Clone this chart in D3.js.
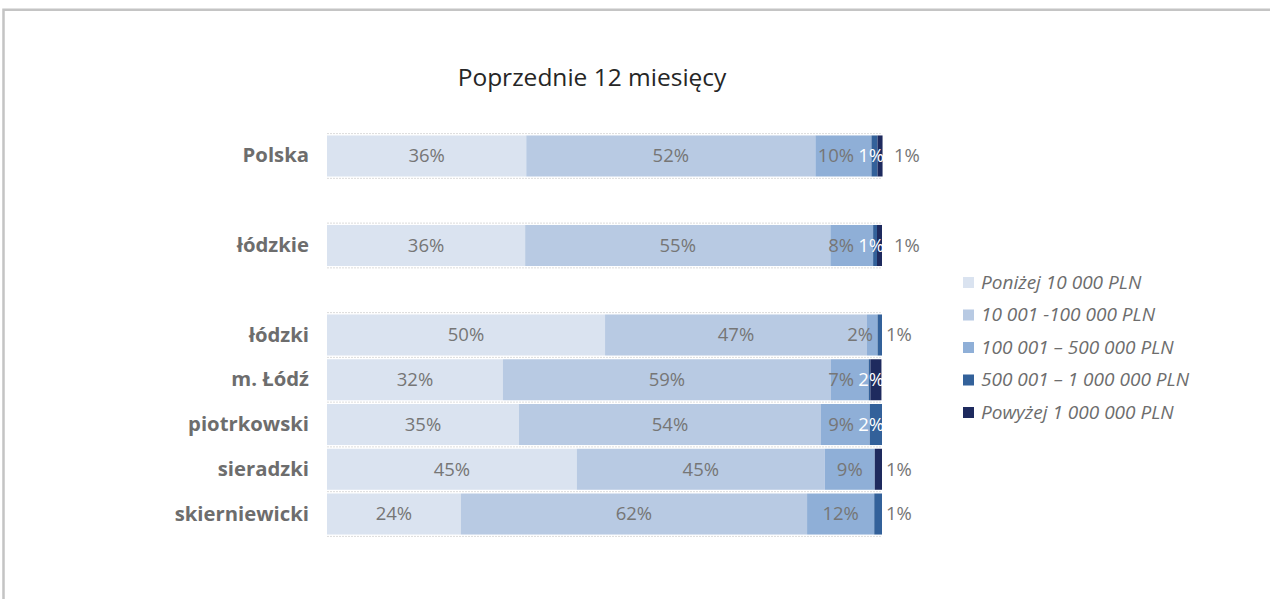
<!DOCTYPE html>
<html>
<head>
<meta charset="utf-8">
<script src="https://cdn.jsdelivr.net/npm/d3@7"></script>
<style>
  body { margin: 0; background: #fff; overflow: hidden; }
  svg { display: block; font-family: "Open Sans", sans-serif; }
</style>
</head>
<body>
<svg id="chart" width="1270" height="599"></svg>
<script>
// rows of the chart, "" = empty spacer row
const categories = ["Polska", "", "łódzkie", "", "łódzki", "m. Łódź", "piotrkowski", "sieradzki", "skierniewicki"];
const seriesNames = ["Poniżej 10 000 PLN", "10 001 -100 000 PLN", "100 001 – 500 000 PLN", "500 001 – 1 000 000 PLN", "Powyżej 1 000 000 PLN"];
const below10k   = [35.9, null, 35.7, null, 50.1, 31.7, 34.6, 45.0, 24.1];
const to100k     = [52.1, null, 55.0, null, 47.2, 59.1, 54.4, 44.7, 62.4];
const to500k     = [10.1, null, 7.7,  null, 1.9,  6.8,  8.8,  9.0,  12.1];
const to1m       = [1.1,  null, 0.7,  null, 0.8,  0.3,  2.2,  0,    1.4];
const above1m    = [0.9,  null, 0.9,  null, 0,    2.0,  0,    1.3,  0];
const colors = ["#dae3f0", "#b8cae3", "#8fafd7", "#33619a", "#1e2a5e"];
const labelColors = ["#767676", "#767676", "#767676", "#ffffff", "#ffffff"];
const title = "Poprzednie 12 miesięcy";

const svg = d3.select("#chart");

// frame of the chart area
svg.append("path")
  .attr("d", "M3.5,599 V9.7 H1270")
  .attr("fill", "none")
  .attr("stroke", "#c4c4c4")
  .attr("stroke-width", 2.5);

svg.append("text")
  .attr("x", 592).attr("y", 86)
  .attr("text-anchor", "middle")
  .attr("font-size", 24.5)
  .attr("fill", "#262626")
  .text(title);

const x = d3.scaleLinear().domain([0, 100]).range([327, 882]);
const y = d3.scaleBand().domain(d3.range(categories.length))
  .range([133.6, 536.4]).paddingInner(0.083).paddingOuter(0.0415);

// dotted row separators
const step = y.step();
svg.append("g").selectAll("line")
  .data(d3.range(categories.length + 1))
  .join("line")
  .attr("x1", x(0)).attr("x2", x(100))
  .attr("y1", i => 133.6 + i * step).attr("y2", i => 133.6 + i * step)
  .attr("stroke", "#dcdcdc").attr("stroke-width", 1)
  .attr("stroke-dasharray", "2,1");

const table = categories.map((c, i) => ({
  idx: i, cat: c,
  v: [below10k[i], to100k[i], to500k[i], to1m[i], above1m[i]]
})).filter(d => d.cat !== "");

const stack = d3.stack().keys(d3.range(5)).value((d, k) => d.v[k]);
const layers = stack(table);

const g = svg.append("g");
layers.forEach((layer, k) => {
  g.append("g").selectAll("rect")
    .data(layer)
    .join("rect")
    .attr("x", d => x(d[0]))
    .attr("width", d => Math.max(0, x(d[1]) - x(d[0])))
    .attr("y", d => y(d.data.idx))
    .attr("height", y.bandwidth())
    .attr("fill", colors[k]);
});

// data labels; a tiny last segment gets its label outside the bar,
// labels near the bar end are pushed left so they don't collide
const lg = svg.append("g");
table.forEach((row, ri) => {
  const cy = y(row.idx) + y.bandwidth() / 2;
  const lastNonZero = d3.max(d3.range(5).filter(j => row.v[j] > 0));
  let leftLimit = Infinity;
  for (let k = 4; k >= 0; k--) {
    const val = row.v[k];
    const r = Math.round(val);
    if (!r) continue;
    const seg = layers[k][ri];
    const outside = k === lastNonZero && val < 1.5;
    const crowded = k > 0 && row.v[k - 1] > 0 && row.v[k - 1] < 1.5;
    const t = lg.append("text")
      .attr("y", cy).attr("dy", "0.35em")
      .attr("font-size", 18.5)
      .attr("text-anchor", "middle")
      .attr("fill", outside ? "#767676" : labelColors[k])
      .text(r + "%");
    const w = t.node().getComputedTextLength();
    let cx;
    if (outside) {
      cx = x(100) + (crowded ? 12 : 4) + w / 2;
    } else {
      cx = (x(seg[0]) + x(seg[1])) / 2;
      const maxRight = Math.min(x(100) + (labelColors[k] === "#ffffff" ? 2 : -9), leftLimit - 4);
      if (cx + w / 2 > maxRight) cx = maxRight - w / 2;
    }
    t.attr("x", cx);
    if (!outside) leftLimit = cx - w / 2;
  }
});

// category axis
const axis = d3.axisLeft(y).tickSize(0).tickPadding(18)
  .tickFormat(i => categories[i]);
const ax = svg.append("g").attr("transform", `translate(${x(0)},0)`).call(axis);
ax.select(".domain").remove();
ax.selectAll("text")
  .attr("font-family", "Open Sans, sans-serif")
  .attr("font-size", 20.3)
  .attr("font-weight", "bold")
  .attr("fill", "#6d6d6d");

// legend
const legend = svg.append("g").attr("transform", "translate(963,282)");
const item = legend.selectAll("g").data(seriesNames).join("g")
  .attr("transform", (d, i) => `translate(0,${i * 32.5})`);
item.append("rect")
  .attr("x", 0).attr("y", -5).attr("width", 11).attr("height", 11)
  .attr("fill", (d, i) => colors[i]);
item.append("text")
  .attr("x", 18).attr("y", 0).attr("dy", "0.35em")
  .attr("font-size", 19)
  .attr("font-style", "italic")
  .attr("fill", "#6d6d6d")
  .text(d => d);
</script>
</body>
</html>
